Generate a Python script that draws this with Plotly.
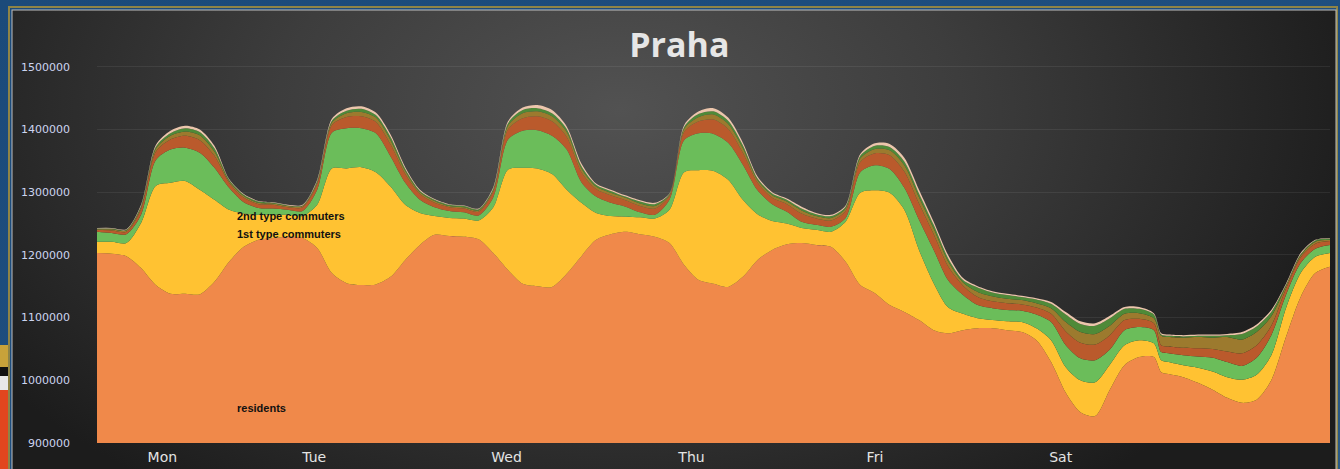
import base64
import plotly.graph_objects as go

# ---- data (hours since Monday 00:00) ----
hours = [0, 2, 4, 6, 8, 10, 12, 14, 16, 18, 20, 22, 24, 26, 28, 30, 32, 34, 36, 38, 40, 42, 44, 46, 48,
         50, 52, 54, 56, 58, 60, 62, 64, 66, 68, 70, 72, 74, 76, 78, 80, 82, 84, 86, 88, 90, 92, 94, 96,
         98, 100, 102, 104, 106, 108, 110, 112, 114, 116, 118, 120, 122, 124, 126, 128, 130, 132, 134,
         136, 138, 140, 142, 144, 145, 146, 148, 150, 152, 154, 156, 158, 160, 162, 164, 166, 168]

residents = [1203000, 1202000, 1198000, 1179000, 1152000, 1138000, 1138000, 1137000, 1157000, 1189000,
             1213000, 1224000, 1227000, 1229000, 1227000, 1211000, 1171000, 1155000, 1152000, 1153000,
             1165000, 1192000, 1216000, 1232000, 1230000, 1229000, 1225000, 1203000, 1176000, 1154000,
             1150000, 1149000, 1170000, 1198000, 1224000, 1233000, 1237000, 1233000, 1229000, 1219000,
             1184000, 1160000, 1154000, 1149000, 1165000, 1192000, 1208000, 1217000, 1219000, 1216000,
             1213000, 1189000, 1152000, 1139000, 1120000, 1109000, 1096000, 1080000, 1075000, 1080000,
             1083000, 1083000, 1080000, 1077000, 1064000, 1029000, 980000, 949000, 943000, 985000,
             1024000, 1037000, 1037000, 1013000, 1010000, 1005000, 996000, 985000, 972000, 964000,
             969000, 1000000, 1069000, 1133000, 1171000, 1181000]

commuters_1st = [18000, 19000, 21000, 72000, 158000, 177000, 180000, 167000, 131000, 83000,
                 53000, 40000, 37000, 35000, 35000, 69000, 167000, 183000, 188000, 179000,
                 144000, 88000, 51000, 30000, 29000, 29000, 30000, 73000, 160000, 185000,
                 188000, 180000, 134000, 85000, 43000, 29000, 24000, 27000, 29000, 53000,
                 148000, 175000, 180000, 171000, 123000, 73000, 46000, 33000, 24000, 24000,
                 24000, 64000, 147000, 164000, 179000, 163000, 112000, 75000, 41000, 26000,
                 16000, 13000, 14000, 16000, 19000, 35000, 41000, 51000, 54000, 40000,
                 32000, 27000, 22000, 19000, 19000, 19000, 24000, 29000, 33000, 37000,
                 40000, 40000, 46000, 38000, 26000, 22000]

commuters_2nd = [16000, 14000, 14000, 13000, 41000, 53000, 53000, 59000, 51000, 35000,
                 18000, 11000, 10000, 8000, 8000, 24000, 57000, 64000, 62000, 62000,
                 48000, 35000, 21000, 14000, 11000, 10000, 8000, 16000, 48000, 59000,
                 61000, 61000, 64000, 33000, 26000, 21000, 16000, 8000, 6000, 16000,
                 51000, 59000, 59000, 59000, 56000, 38000, 27000, 19000, 10000, 8000,
                 8000, 6000, 33000, 40000, 38000, 35000, 48000, 53000, 43000, 30000,
                 21000, 19000, 18000, 18000, 22000, 29000, 35000, 35000, 35000, 24000,
                 24000, 21000, 21000, 13000, 14000, 16000, 18000, 22000, 24000, 22000,
                 27000, 32000, 21000, 16000, 13000, 13000]

group_rust = [3000, 4000, 4000, 9000, 13000, 16000, 19000, 20000, 19000, 8000,
              7000, 6000, 6000, 4000, 6000, 9000, 12000, 18000, 19000, 18000,
              19000, 14000, 9000, 7000, 6000, 6000, 6000, 9000, 16000, 20000,
              22000, 23000, 20000, 16000, 12000, 12000, 10000, 10000, 10000, 6000,
              13000, 19000, 23000, 22000, 19000, 12000, 10000, 12000, 13000, 10000,
              10000, 11000, 16000, 19000, 22000, 26000, 26000, 25000, 22000, 15000,
              13000, 11000, 11000, 10000, 11000, 13000, 22000, 25000, 25000, 23000,
              16000, 13000, 11000, 11000, 11000, 12000, 13000, 14000, 17000, 20000,
              20000, 15000, 10000, 9000, 8000, 6000]

group_olive = [1000, 2000, 2000, 3000, 5000, 6000, 7000, 8000, 7000, 3000,
               3000, 2000, 2000, 2000, 2000, 3000, 4000, 6000, 7000, 7000,
               7000, 5000, 3000, 3000, 2000, 2000, 2000, 3000, 6000, 8000,
               8000, 8000, 8000, 6000, 4000, 4000, 4000, 4000, 4000, 2000,
               5000, 7000, 8000, 8000, 7000, 4000, 4000, 4000, 5000, 4000,
               4000, 4000, 6000, 7000, 8000, 10000, 10000, 9000, 8000, 5000,
               8000, 8000, 7000, 7000, 7000, 9000, 15000, 17000, 17000, 15000,
               10000, 9000, 8000, 15000, 15000, 16000, 18000, 18000, 23000, 22000,
               21000, 15000, 4000, 3000, 3000, 2000]

group_darkgreen = [1000, 1000, 1000, 2000, 3000, 4000, 5000, 5000, 5000, 2000,
                   2000, 2000, 1000, 1000, 1000, 2000, 3000, 4000, 5000, 4000,
                   5000, 3000, 2000, 2000, 2000, 2000, 2000, 2000, 4000, 5000,
                   5000, 5000, 5000, 4000, 3000, 3000, 2000, 3000, 3000, 1000,
                   3000, 5000, 5000, 5000, 5000, 3000, 3000, 3000, 3000, 3000,
                   3000, 3000, 4000, 5000, 5000, 6000, 6000, 6000, 5000, 4000,
                   7000, 6000, 6000, 5000, 6000, 7000, 12000, 13000, 13000, 12000,
                   8000, 7000, 6000, 2000, 2000, 2000, 2000, 3000, 3000, 9000,
                   9000, 7000, 2000, 2000, 2000, 2000]

group_cream = [1000, 1000, 1000, 2000, 3000, 4000, 4000, 4000, 4000, 1000,
               1000, 1000, 1000, 1000, 1000, 2000, 3000, 4000, 4000, 4000,
               4000, 3000, 2000, 1000, 1000, 1000, 1000, 2000, 3000, 4000,
               5000, 5000, 4000, 4000, 2000, 2000, 2000, 2000, 2000, 1000,
               3000, 4000, 5000, 5000, 4000, 3000, 2000, 2000, 3000, 2000,
               2000, 2000, 3000, 4000, 5000, 6000, 6000, 5000, 5000, 3000,
               2000, 2000, 2000, 2000, 2000, 3000, 4000, 4000, 4000, 4000,
               3000, 3000, 2000, 2000, 2000, 2000, 2000, 2000, 2000, 3000,
               3000, 3000, 2000, 2000, 1000, 1000]

day_ticks = [8.9, 29.6, 55.8, 81.0, 106.0, 131.3]
day_labels = ["Mon", "Tue", "Wed", "Thu", "Fri", "Sat"]
y_ticks = [900000, 1000000, 1100000, 1200000, 1300000, 1400000, 1500000]

series = [
    ("residents", residents, "#F0894A"),
    ("1st type commuters", commuters_1st, "#FFC232"),
    ("2nd type commuters", commuters_2nd, "#6BBD5A"),
    ("group 4", group_rust, "#BA5A2C"),
    ("group 5", group_olive, "#9C7A2E"),
    ("group 6", group_darkgreen, "#4F8A38"),
    ("group 7", group_cream, "#ECC6AC"),
]

# ---- layout constants ----
W, H = 1340, 469
ML, MR, MT, MB = 97, 10, 25, 26
PW, PH = W - ML - MR, H - MT - MB

fig = go.Figure()
for name, vals, col in series:
    fig.add_trace(go.Scatter(
        x=hours, y=vals, name=name, stackgroup="one", mode="lines",
        line=dict(width=0, shape="spline", smoothing=0.8, color=col),
        fillcolor=col, showlegend=False, hoverinfo="skip",
    ))

svg = f"""<svg xmlns='http://www.w3.org/2000/svg' width='{W}' height='{H}' viewBox='0 0 {W} {H}' preserveAspectRatio='none'>
<defs>
<radialGradient id='g' cx='620' cy='110' r='760' gradientUnits='userSpaceOnUse' gradientTransform='translate(620 110) scale(1 0.62) translate(-620 -110)'>
<stop offset='0' stop-color='#525252'/>
<stop offset='0.45' stop-color='#3d3d3d'/>
<stop offset='1' stop-color='#1c1c1c'/>
</radialGradient>
<linearGradient id='b' x1='0' y1='0' x2='1' y2='1'>
<stop offset='0' stop-color='#1b4a7a'/>
<stop offset='0.6' stop-color='#1f4f80'/>
<stop offset='1' stop-color='#2a5a86'/>
</linearGradient>
</defs>
<rect x='0' y='0' width='{W}' height='{H}' fill='url(#b)'/>
<rect x='0' y='345' width='10' height='22' fill='#c8a23a'/>
<rect x='0' y='367' width='10' height='9' fill='#111111'/>
<rect x='0' y='376' width='10' height='14' fill='#e8e8e8'/>
<rect x='0' y='390' width='10' height='79' fill='#e2461e'/>
<rect x='9' y='7' width='{W-12}' height='{H}' fill='none' stroke='#8f8446' stroke-width='2'/>
<rect x='12' y='10' width='{W-16}' height='{H}' fill='url(#g)' stroke='#bfbfbf' stroke-width='1'/>
</svg>"""
src = "data:image/svg+xml;base64," + base64.b64encode(svg.encode()).decode()

fig.add_layout_image(dict(
    source=src, xref="paper", yref="paper",
    x=-ML / PW, y=1 + MT / PH, sizex=W / PW, sizey=H / PH,
    xanchor="left", yanchor="top", sizing="stretch", layer="below",
))

lab_font = dict(family="Liberation Sans Narrow, Liberation Sans", size=11, color="#111111", weight="bold")
fig.add_annotation(x=18.8, y=1262000, text="2nd type commuters", showarrow=False,
                   xanchor="left", yanchor="middle", font=lab_font)
fig.add_annotation(x=18.8, y=1233000, text="1st type commuters", showarrow=False,
                   xanchor="left", yanchor="middle", font=lab_font)
fig.add_annotation(x=18.8, y=956000, text="residents", showarrow=False,
                   xanchor="left", yanchor="middle", font=lab_font)

fig.update_layout(
    width=W, height=H,
    margin=dict(l=ML, r=MR, t=MT, b=MB, autoexpand=False),
    paper_bgcolor="#1b4a7a",
    plot_bgcolor="rgba(0,0,0,0)",
    title=dict(text="Praha", x=0.507, xref="container", y=1 - 45 / H, yref="container",
               xanchor="center", yanchor="middle",
               font=dict(family="Open Sans", size=34, color="#E6E6E6", weight="bold")),
    xaxis=dict(range=[0, 168], tickvals=day_ticks, ticktext=day_labels, showgrid=False,
               zeroline=False, showline=False, ticks="", automargin=False,
               tickfont=dict(family="DejaVu Sans", size=14, color="#E4E4E4"),
               ticklabelstandoff=4),
    yaxis=dict(range=[900000, 900000 + PH * 1595], tickvals=y_ticks,
               ticktext=[str(v) for v in y_ticks], showgrid=True, automargin=False,
               gridcolor="rgba(255,255,255,0.07)", zeroline=False, showline=False, ticks="",
               tickfont=dict(family="DejaVu Sans", size=11, color="#CCD5F0"),
               ticklabelstandoff=26),
)

fig.write_html(
    "out.html",
    config={"displayModeBar": False},
    post_script="document.body.style.margin='0';document.body.style.overflow='hidden';",
)
